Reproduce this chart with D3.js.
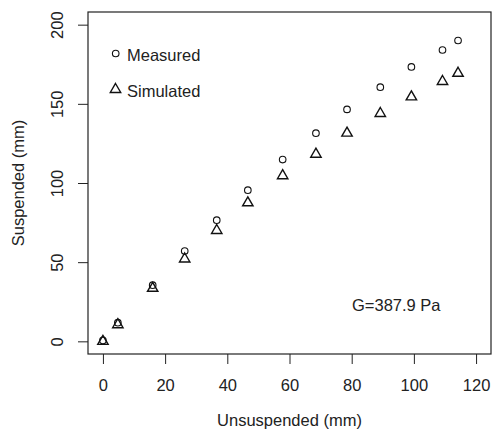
<!DOCTYPE html>
<html>
<head>
<meta charset="utf-8">
<script src="https://cdn.jsdelivr.net/npm/d3@7"></script>
<style>
  body { margin: 0; background: #fff; }
  svg { font-family: "Liberation Sans", Arial, sans-serif; }
  .axis text { font-size: 16.5px; fill: #222; }
  .axis line { stroke: #222; }
</style>
</head>
<body>
<div id="chart"></div>
<script>
// Values
const unsuspended = [0, 4.8, 16, 26.3, 36.6, 46.6, 57.8, 68.5, 78.5, 89.2, 99.2, 109.2, 114.2];
const measured    = [0.6, 11.8, 35.5, 57, 76.5, 95.5, 114.8, 131.5, 146.5, 160.5, 173.3, 184, 190];
const simulated   = [0, 10.5, 33.5, 52, 70, 87.5, 104.6, 118.2, 131.5, 143.9, 154.4, 164.1, 169.3];
const xTicks = [0, 20, 40, 60, 80, 100, 120];
const yTicks = [0, 50, 100, 150, 200];
const legendLabels = ['Measured', 'Simulated'];
const note = 'G=387.9 Pa';

const width = 492, height = 435;
const plot = {left: 88, right: 491, top: 12, bottom: 354};

const svg = d3.select('#chart').append('svg')
    .attr('width', width)
    .attr('height', height);

// Scales (R-style 4% padding round xlim 0..120 and ylim 0..200)
const x = d3.scaleLinear().domain([-4.8, 124.8]).range([plot.left, plot.right]);
const y = d3.scaleLinear().domain([-8, 208]).range([plot.bottom, plot.top]);

// X axis
const gx = svg.append('g')
    .attr('class', 'axis')
    .attr('transform', `translate(0,${plot.bottom})`)
    .call(d3.axisBottom(x).tickValues(xTicks).tickSize(10).tickSizeOuter(0));
gx.select('.domain').remove();
gx.selectAll('text').attr('y', 31).attr('dy', '0.35em');

// Y axis, labels rotated like R's las=0
const gy = svg.append('g')
    .attr('class', 'axis')
    .attr('transform', `translate(${plot.left},0)`)
    .call(d3.axisLeft(y).tickValues(yTicks).tickSize(10).tickSizeOuter(0));
gy.select('.domain').remove();
gy.selectAll('text')
    .attr('x', 0).attr('y', 0)
    .attr('dy', '0.35em')
    .attr('text-anchor', 'middle')
    .attr('transform', 'translate(-31,0) rotate(-90)');

// Box
svg.append('rect')
    .attr('x', plot.left)
    .attr('y', plot.top)
    .attr('width', plot.right - plot.left)
    .attr('height', plot.bottom - plot.top)
    .attr('fill', 'none')
    .attr('stroke', '#222')
    .attr('stroke-width', 1.2);

// Axis titles
svg.append('text')
    .attr('x', (plot.left + plot.right) / 2)
    .attr('y', 420)
    .attr('dy', '0.35em')
    .attr('text-anchor', 'middle')
    .attr('font-size', '16.5px')
    .attr('fill', '#222')
    .text('Unsuspended (mm)');

svg.append('text')
    .attr('transform', `translate(18,${(plot.top + plot.bottom) / 2}) rotate(-90)`)
    .attr('dy', '0.35em')
    .attr('text-anchor', 'middle')
    .attr('font-size', '16.5px')
    .attr('fill', '#222')
    .text('Suspended (mm)');

const triangle = d3.symbol().type(d3.symbolTriangle).size(47);

// Simulated (triangles)
svg.append('g').selectAll('path')
    .data(unsuspended)
    .enter()
    .append('path')
    .attr('d', triangle)
    .attr('transform', (d, i) => `translate(${x(d)},${y(simulated[i])})`)
    .attr('fill', 'none')
    .attr('stroke', '#111')
    .attr('stroke-width', 1.4);

// Measured (circles)
svg.append('g').selectAll('circle')
    .data(unsuspended)
    .enter()
    .append('circle')
    .attr('cx', d => x(d))
    .attr('cy', (d, i) => y(measured[i]))
    .attr('r', 3.3)
    .attr('fill', 'none')
    .attr('stroke', '#111')
    .attr('stroke-width', 1.1);

// Legend
const legend = svg.append('g');
legend.append('circle')
    .attr('cx', 115.7).attr('cy', 53.5)
    .attr('r', 3.3)
    .attr('fill', 'none').attr('stroke', '#111').attr('stroke-width', 1.1);
legend.append('path')
    .attr('d', triangle)
    .attr('transform', 'translate(115.5,89.5)')
    .attr('fill', 'none').attr('stroke', '#111').attr('stroke-width', 1.4);
legend.selectAll('text')
    .data(legendLabels)
    .enter()
    .append('text')
    .attr('x', 127)
    .attr('y', (d, i) => 55 + i * 36)
    .attr('dy', '0.35em')
    .attr('font-size', '16.5px')
    .attr('fill', '#222')
    .text(d => d);

// Annotation
svg.append('text')
    .attr('x', 352)
    .attr('y', 305)
    .attr('dy', '0.35em')
    .attr('font-size', '16.5px')
    .attr('fill', '#222')
    .text(note);
</script>
</body>
</html>
